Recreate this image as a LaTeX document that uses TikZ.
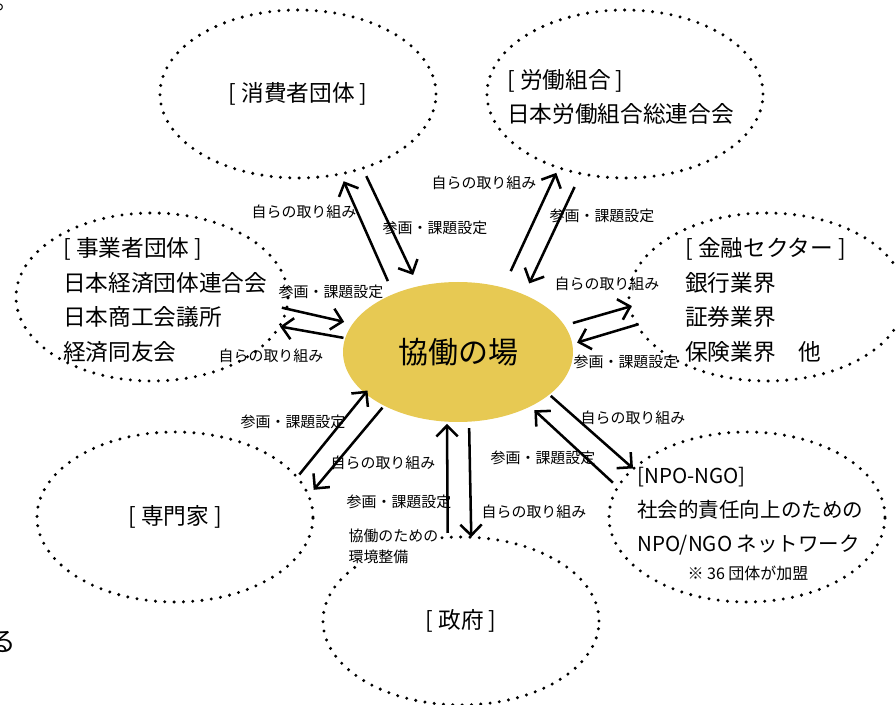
\documentclass[tikz,border=0pt]{standalone}
\usepackage{fontspec}
\setmainfont{Noto Sans CJK JP}
\usetikzlibrary{shapes.geometric,arrows.meta,calc}
\definecolor{hubyellow}{RGB}{231,201,83}

\begin{document}
\begin{tikzpicture}[x=0.75pt,y=-0.75pt]
      \tikzstyle{ring} = [draw,ellipse,line width=2.5pt,dash pattern=on 0pt off 7pt,line cap=round,minimum width=207pt,minimum height=126pt,inner sep=0pt,outer sep=0pt,font=\fontsize{17pt}{26pt}\selectfont]
      \tikzstyle{big} = [align=left,inner sep=0pt,font=\fontsize{17pt}{26pt}\selectfont]
      \tikzstyle{lbl} = [inner sep=1pt,font=\fontsize{11.2pt}{16pt}\selectfont]
      \tikzstyle{arr} = [-{Straight Barb[length=8pt,width=16pt]},line width=1.9pt]
      \useasboundingbox (0,0) rectangle (896,705);

      \node[ellipse,fill=hubyellow,minimum width=172.5pt,minimum height=105pt,inner sep=0pt,outer sep=0pt,font=\fontsize{22.5pt}{27pt}\selectfont] (hub) at (458,352) {協働の場};
      \node[ring] (cons) at (298,94) {[ 消費者団体 ]};
      \node[ring] (labor) at (625,94) {};
      \node[ring,minimum width=204pt] (biz) at (152,297) {};
      \node[ring] (fin) at (767,297) {};
      \node[ring,minimum height=127.5pt] (expert) at (175,517) {[ 専門家 ]};
      \node[ring] (gov) at (461,621) {[ 政府 ]};
      \node[ring,minimum height=127.5pt] (npo) at (747,517) {};

      \node[big,anchor=west] (laborT) at (507,97) {[ 労働組合 ]\\日本労働組合総連合会};
      \node[big,anchor=west] (bizT) at (63,300) {[ 事業者団体 ]\\日本経済団体連合会\\日本商工会議所\\経済同友会};
      \node[big,anchor=west] (finT) at (685,300) {[ 金融セクター ]\\銀行業界\\証券業界\\保険業界　他};
      \node[big,anchor=west,font=\fontsize{15.4pt}{25.5pt}\selectfont] (npoT) at (637,511) {[NPO-NGO]\\社会的責任向上のための\\NPO/NGO ネットワーク};
      \node[inner sep=0pt,font=\fontsize{12pt}{14pt}\selectfont] (npoNote) at (748,573) {※ 36 団体が加盟};

      \node[big,anchor=base west] (dotFrag) at (-4.5,10) {。};
      \node[anchor=base west,inner sep=0pt,font=\fontsize{20pt}{24pt}\selectfont] (ruFrag) at (-11,651) {る};

      \foreach \x/\y/\t [count=\i] in {304/212/自らの取り組み, 435/228/参画・課題設定,
          331/292/参画・課題設定, 271/356/自らの取り組み, 484/183/自らの取り組み,
          602/216/参画・課題設定, 607/284/自らの取り組み, 626/362/参画・課題設定,
          293/422/参画・課題設定, 383/463/自らの取り組み, 399/502/参画・課題設定,
          534/512/自らの取り組み, 633/418/自らの取り組み, 543/458/参画・課題設定}
        \node[lbl] (lab\i) at (\x,\y) {\t};
      \node[lbl,fill=white,align=left,anchor=west] (envT) at (347,546) {協働のための\\環境整備};

      \foreach \a/\b/\sa/\sb in {hub.138/cons.298.8/10.6/6, cons.311.4/hub.121.2/6.6/9.4,
          biz.355.3/hub.165.2/-3.7/6.6, hub.173.7/biz.347.8/1.4/0.5,
          hub.55.7/labor.228.4/13.6/4.3, labor.241.4/hub.41.9/11.1/9.3,
          hub.14.8/fin.184.4/6.6/-1.5, fin.192.5/hub.4.4/-1.5/3.8,
          expert.18.9/hub.204.3/2.7/-2.7, hub.216.4/expert.9.9/2/5.9,
          gov.99.5/hub.261.0/3.3/1.7, hub.279.8/gov.83.9/4.8/0.1,
          hub.335.8/npo.157.9/1.5/0.4, npo.167.6/hub.323.4/5/4.2}
        \draw[arr,shorten <=\sa pt,shorten >=\sb pt] (\a) -- (\b);
    \end{tikzpicture}
\end{document}
